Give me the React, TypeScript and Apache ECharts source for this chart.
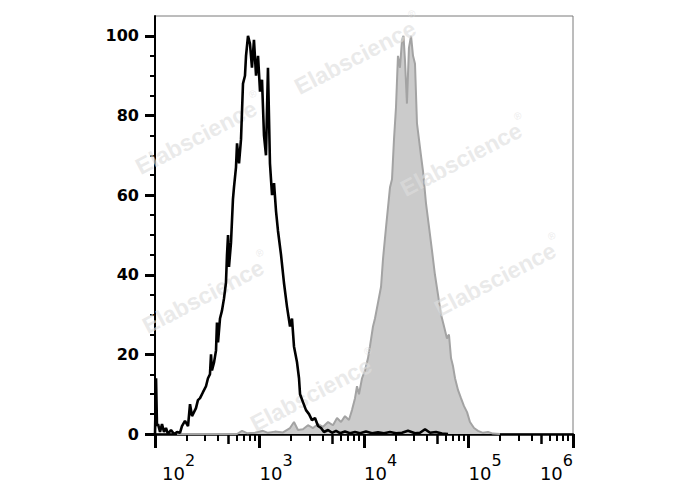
import React, { useEffect, useRef } from "react";
import * as echarts from "echarts";

// x positions are in decades (log10 of fluorescence intensity)
const blackX = [2.0, 2.01, 2.019, 2.029, 2.048, 2.067, 2.086, 2.105, 2.124, 2.153, 2.182, 2.211, 2.239, 2.258, 2.287, 2.316, 2.335, 2.354, 2.373, 2.392, 2.411, 2.431, 2.459, 2.488, 2.507, 2.526, 2.536, 2.545, 2.565, 2.584, 2.593, 2.603, 2.622, 2.641, 2.66, 2.679, 2.689, 2.699, 2.708, 2.727, 2.746, 2.756, 2.775, 2.785, 2.804, 2.823, 2.842, 2.861, 2.871, 2.89, 2.909, 2.928, 2.947, 2.967, 2.986, 3.005, 3.024, 3.043, 3.062, 3.081, 3.1, 3.12, 3.139, 3.158, 3.177, 3.206, 3.234, 3.263, 3.292, 3.311, 3.33, 3.359, 3.378, 3.388, 3.416, 3.445, 3.474, 3.502, 3.531, 3.56, 3.589, 3.617, 3.656, 3.694, 3.732, 3.77, 3.818, 3.866, 3.914, 3.962, 4.019, 4.077, 4.134, 4.191, 4.249, 4.306, 4.364, 4.421, 4.488, 4.536, 4.584, 4.632, 4.689, 4.746, 4.804];
const blackY = [0, 14, 2, 2.5, 0.5, 2.5, 0.5, 1.5, 0, 1, 0, 0.5, 0.3, 2, 3.3, 2, 7.5, 4.5, 5.5, 6.5, 8.5, 9, 10.5, 12, 14, 15, 20, 16, 18, 21, 28, 23, 29, 31, 34, 38, 45, 50, 42, 48, 59, 62, 67, 73, 68, 74, 88, 90, 95, 100, 98, 92, 99, 90, 95, 86, 89, 75, 70, 92, 68, 60, 63, 56, 51, 45, 38, 32, 27, 29, 22, 18, 14, 10, 8, 6, 5, 3.5, 4, 2, 1.5, 0.5, 1, 0.3, 0.8, 0.2, 0.6, 0.2, 0.5, 0.2, 0.6, 0.2, 0.4, 0.2, 0.5, 0.2, 0.3, 0.8, 0.2, 0.3, 1.2, 0.3, 0.5, 0.1, 0];

const grayX = [2.211, 2.785, 2.833, 2.88, 2.957, 3.033, 3.081, 3.148, 3.225, 3.292, 3.33, 3.368, 3.416, 3.464, 3.512, 3.56, 3.608, 3.656, 3.703, 3.742, 3.78, 3.818, 3.856, 3.885, 3.914, 3.933, 3.952, 3.981, 4.01, 4.038, 4.057, 4.086, 4.105, 4.134, 4.163, 4.182, 4.211, 4.23, 4.249, 4.268, 4.287, 4.306, 4.325, 4.344, 4.364, 4.378, 4.392, 4.411, 4.43, 4.45, 4.469, 4.488, 4.507, 4.526, 4.545, 4.565, 4.593, 4.622, 4.651, 4.679, 4.708, 4.737, 4.766, 4.794, 4.813, 4.833, 4.852, 4.871, 4.9, 4.928, 4.957, 4.986, 5.014, 5.053, 5.091, 5.139, 5.187, 5.234, 5.301];
const grayY = [0, 0, 0.8, 0.2, 0.3, 0.8, 0.3, 0.6, 0.4, 1.5, 3, 1, 1.2, 2.2, 1.5, 2.5, 1.8, 3, 2.2, 4, 3, 4.5, 3.5, 6, 9, 12, 10, 14, 16, 19, 22, 27, 29, 33, 37, 44, 52, 57, 62, 64, 74, 82, 95, 92, 99, 100, 94, 83, 97, 100, 95, 93, 78, 74, 70, 66, 58, 52, 46, 40, 35, 30, 27, 24, 25, 19, 17, 14, 11, 9, 7, 5.5, 3, 1.5, 0.8, 0.3, 0.5, 0.1, 0];

const yTicks = [0, 20, 40, 60, 80, 100];
const yMinorTicks = [5, 10, 15, 25, 30, 35, 45, 50, 55, 65, 70, 75, 85, 90, 95];
const xDecades = [2, 3, 4, 5, 6];
const watermarkText = "Elabscience";

export default function App() {
  const ref = useRef<HTMLDivElement>(null);
  useEffect(() => {
    if (!ref.current) return;
    const chart = echarts.init(ref.current, undefined, { renderer: "svg" });
    const medium = xDecades.slice(0, -1).map((d) => d + Math.log10(5));
    const minor: number[] = [];
    xDecades.slice(0, -1).forEach((d) => {
      [2, 3, 4, 6, 7, 8, 9].forEach((k) => minor.push(d + Math.log10(k)));
    });
    const font = "DejaVu Sans";
    const wmCenters = [
      [357, 53],
      [198, 133],
      [463, 155],
      [205, 292],
      [497, 275],
      [313, 390],
    ];
    const hiddenX = {
      type: "value" as const,
      min: 2,
      max: 6,
      position: "bottom" as const,
      axisLine: { show: false },
      axisLabel: { show: false },
      splitLine: { show: false },
    };
    const wmFill = "rgba(222,222,222,0.65)";
    chart.setOption({
      animation: false,
      backgroundColor: "#ffffff",
      grid: {
        left: 155,
        right: 115,
        top: 16,
        bottom: 56,
        show: true,
        borderColor: "#7a7a7a",
        borderWidth: 1,
        backgroundColor: "transparent",
      },
      xAxis: [
        {
          type: "value",
          min: 2,
          max: 6,
          position: "bottom",
          axisLine: { show: true, lineStyle: { color: "#000", width: 2.5 } },
          axisTick: {
            show: true,
            customValues: xDecades,
            length: 14,
            lineStyle: { color: "#000", width: 3 },
          },
          splitLine: { show: false },
          axisLabel: {
            customValues: xDecades,
            margin: 18,
            align: "left",
            alignMaxLabel: "right",
            color: "#000",
            formatter: (v: number) =>
              Math.round(v) === xDecades[0]
                ? `{gap|}{b|10}{s|${Math.round(v)}}`
                : `{b|10}{s|${Math.round(v)}}`,
            rich: {
              gap: { width: 7, height: 10 },
              b: {
                fontFamily: font,
                fontSize: 18,
                color: "#000",
                verticalAlign: "bottom",
                padding: [12, 0, 0, 0],
              },
              s: {
                fontFamily: font,
                fontSize: 16,
                color: "#000",
                verticalAlign: "top",
              },
            },
          },
        },
        {
          ...hiddenX,
          axisTick: {
            show: true,
            customValues: medium,
            length: 10,
            lineStyle: { color: "#000", width: 2.5 },
          },
        },
        {
          ...hiddenX,
          axisTick: {
            show: true,
            customValues: minor,
            length: 7,
            lineStyle: { color: "#000", width: 2 },
          },
        },
      ],
      yAxis: [
        {
          type: "value",
          min: 0,
          max: 105,
          position: "left",
          axisLine: { show: true, lineStyle: { color: "#000", width: 2 } },
          axisTick: {
            show: true,
            customValues: yTicks,
            length: 10,
            lineStyle: { color: "#000", width: 3 },
          },
          splitLine: { show: false },
          axisLabel: {
            customValues: yTicks,
            margin: 16,
            color: "#000",
            fontFamily: font,
            fontSize: 16,
            fontWeight: "bold",
          },
        },
        {
          type: "value",
          min: 0,
          max: 105,
          position: "left",
          axisLine: { show: false },
          axisLabel: { show: false },
          splitLine: { show: false },
          axisTick: {
            show: true,
            customValues: yMinorTicks,
            length: 5,
            lineStyle: { color: "#000", width: 2 },
          },
        },
      ],
      graphic: wmCenters.map(([x, y]) => ({
        type: "text",
        x,
        y,
        rotation: 0.48,
        z: 5,
        silent: true,
        style: {
          text: `{m|${watermarkText}}{r|®}`,
          align: "center",
          verticalAlign: "middle",
          rich: {
            m: {
              fontFamily: "Liberation Sans",
              fontWeight: "bold",
              fontSize: 23,
              fill: wmFill,
              verticalAlign: "bottom",
              padding: [6, 0, 0, 0],
            },
            r: {
              fontFamily: "Liberation Sans",
              fontSize: 10,
              fill: wmFill,
              verticalAlign: "top",
            },
          },
        },
      })),
      series: [
        {
          type: "line",
          data: grayX.map((x, i) => [x, grayY[i]]),
          showSymbol: false,
          symbol: "none",
          z: 2,
          lineStyle: { color: "#a3a3a3", width: 2 },
          areaStyle: { color: "#cbcbcb", opacity: 1 },
        },
        {
          type: "line",
          data: blackX.map((x, i) => [x, blackY[i]]),
          showSymbol: false,
          symbol: "none",
          z: 10,
          lineStyle: { color: "#000", width: 2.6 },
        },
      ],
    });
    return () => chart.dispose();
  }, []);
  return (
    <div
      ref={ref}
      style={{ position: "fixed", left: 0, top: 0, width: 688, height: 490, background: "#fff" }}
    />
  );
}
